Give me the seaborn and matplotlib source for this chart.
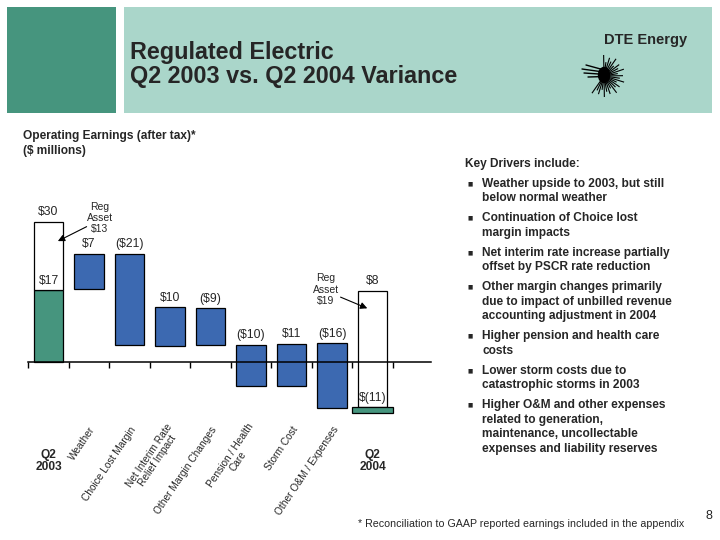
import numpy as np
import pandas as pd
import matplotlib
matplotlib.use("Agg")
import matplotlib.pyplot as plt
import seaborn as sns
from matplotlib.patches import Rectangle, Ellipse

# ---------------- data (original is not drawn to scale) ----------------
categories = ["Q2\n2003", "Weather", "Choice Lost Margin", "Net Interim Rate\nRelief Impact",
              "Other Margin Changes", "Pension / Health\nCare", "Storm Cost",
              "Other O&M / Expenses", "Q2\n2004"]
value_labels = ["$30", "$7", "($21)", "$10", "($9)", "($10)", "$11", "($16)", "$8"]

q2_2003_operating = 15.5     # drawn height of the "$17" green bar
q2_2003_total = 30.0         # top of the bar incl. reg asset ("$30")
q2_2003_base_label = "$17"
q2_2004_total = 15.3         # top of the bar incl. reg asset ("$8")
q2_2004_operating = -9.6     # "$(11)"
q2_2004_floor = -11.0
q2_2004_base_label = "$(11)"

change_bottom = [15.6, 3.6, 3.4, 3.6, -5.2, -5.2, -9.9]
change_top = [23.2, 23.2, 11.7, 11.5, 3.6, 3.8, 4.0]

reg_asset_labels = ["Reg\nAsset\n$13", "Reg\nAsset\n$19"]

key_drivers = [
    "Weather upside to 2003, but still\nbelow normal weather",
    "Continuation of Choice lost\nmargin impacts",
    "Net interim rate increase partially\noffset by PSCR rate reduction",
    "Other margin changes primarily\ndue to impact of unbilled revenue\naccounting adjustment in 2004",
    "Higher pension and health care\ncosts",
    "Lower storm costs due to\ncatastrophic storms in 2003",
    "Higher O&M and other expenses\nrelated to generation,\nmaintenance, uncollectable\nexpenses and liability reserves",
]

# ---------------- style ----------------
sns.set_theme(style="white")
plt.rcParams["font.family"] = ["Liberation Sans", "DejaVu Sans"]

DARK = "#46957E"
LIGHT = "#AAD6CA"
BLUE = "#3C69B1"
GREEN = "#46957E"

W, H = 720, 540
fig = plt.figure(figsize=(7.2, 5.4), dpi=100)
fig.patch.set_facecolor("white")


def fx(px):
    return px / W


def fy(py):
    return 1 - py / H


# header
fig.add_artist(Rectangle((fx(7), fy(113)), fx(109), 106 / H, transform=fig.transFigure,
                         facecolor=DARK, edgecolor="none", zorder=-2))
fig.add_artist(Rectangle((fx(124), fy(113)), fx(588), 106 / H, transform=fig.transFigure,
                         facecolor=LIGHT, edgecolor="none", zorder=-2))
fig.text(fx(130), fy(52), "Regulated Electric", fontsize=16.8, fontweight="bold", va="center", ha="left")
fig.text(fx(130), fy(76), "Q2 2003 vs. Q2 2004 Variance", fontsize=16.8, fontweight="bold",
         va="center", ha="left")
fig.text(fx(646), fy(40), "DTE Energy", fontsize=10.5, fontweight="bold", va="center", ha="center")

# logo (simple starburst)
lax = fig.add_axes([fx(578), fy(100), fx(52), 48 / H], zorder=5)
lax.set_facecolor("none")
lax.set_xlim(-1.3, 1.3)
lax.set_ylim(-1.2, 1.2)
lax.axis("off")
angles = np.deg2rad(np.arange(-125, 95, 9))
for k, a in enumerate(angles):
    r = [1.05, 0.8, 0.95, 0.7][k % 4]
    lax.plot([0.15 * np.cos(a), r * np.cos(a)], [0.15 * np.sin(a), r * np.sin(a)],
             color="black", lw=0.8, solid_capstyle="butt")
lax.add_patch(Ellipse((0.0, 0.05), 0.55, 0.75, color="black"))
for yy, x0 in [(0.55, -0.9), (0.35, -1.1), (0.15, -1.0), (-0.05, -0.8)]:
    lax.plot([x0, -0.1], [yy, yy * 0.6], color="black", lw=1.0)

# subtitle
fig.text(fx(23), fy(135.5), "Operating Earnings (after tax)*", fontsize=8.6, fontweight="bold", va="center")
fig.text(fx(23), fy(151), "($ millions)", fontsize=8.6, fontweight="bold", va="center")

# key drivers
fig.text(fx(465), fy(164), "Key Drivers include:", fontsize=8.6, fontweight="bold", va="center")
y = 183.7
for item in key_drivers:
    lines = item.split("\n")
    fig.text(fx(470), fy(y), "\u25a0", fontsize=4, va="center", ha="center", family="DejaVu Sans")
    for ln in lines:
        fig.text(fx(482.3), fy(y), ln, fontsize=8.6, fontweight="bold", va="center")
        y += 14.5
    y += 5.5

fig.text(fx(358), fy(524), "* Reconciliation to GAAP reported earnings included in the appendix",
         fontsize=7.7, va="center")
fig.text(fx(709), fy(516), "8", fontsize=9, va="center", ha="center")

# ---------------- chart ----------------
PX_PER_CAT = 40.5
PX_PER_UNIT = 4.667
x_left_px, x_right_px = 28.3, 431
base_py = 362
ymin, ymax = -12.0, 34.0
top_py = base_py - ymax * PX_PER_UNIT
bot_py = base_py - ymin * PX_PER_UNIT
ax = fig.add_axes([fx(x_left_px), fy(bot_py), fx(x_right_px - x_left_px), (bot_py - top_py) / H])
ax.set_facecolor("none")

pos = np.arange(len(categories))
bw = 0.72
edge_kw = dict(edgecolor="black", linewidth=0.9, saturation=1, errorbar=None,
               native_scale=True, orient="x", ax=ax)

# Q2 2003
sns.barplot(x=[pos[0]], y=[q2_2003_operating], width=bw, color=GREEN, **edge_kw)
sns.barplot(x=[pos[0]], y=[q2_2003_total - q2_2003_operating], bottom=[q2_2003_operating],
            width=bw, color="white", **edge_kw)
# changes
heights = np.array(change_top) - np.array(change_bottom)
df_change = pd.DataFrame({"pos": pos[1:8], "height": heights})
sns.barplot(data=df_change, x="pos", y="height", bottom=change_bottom, width=bw, color=BLUE, **edge_kw)
# Q2 2004
sns.barplot(x=[pos[8]], y=[q2_2004_total - q2_2004_operating], bottom=[q2_2004_operating],
            width=bw, color="white", **edge_kw)
sns.barplot(x=[pos[8]], y=[q2_2004_operating - q2_2004_floor], bottom=[q2_2004_floor],
            width=1.0, color=GREEN, **edge_kw)

ax.set_xlim(-0.5, (x_right_px - x_left_px) / PX_PER_CAT - 0.5)
ax.set_ylim(ymin, ymax)
sns.despine(ax=ax, left=True, top=True, right=True)
ax.spines["bottom"].set_position(("data", 0))
ax.spines["bottom"].set_color("black")
ax.spines["bottom"].set_linewidth(1.1)
ax.set_xticks(np.arange(-0.5, len(categories), 1.0))
ax.set_xticklabels([])
ax.set_yticks([])
ax.tick_params(axis="x", bottom=True, direction="out", length=4.3, width=1.0, color="black")
ax.set_xlabel("")
ax.set_ylabel("")

# value labels
tops = [q2_2003_total] + change_top + [q2_2004_total]
for i, (t, lab) in enumerate(zip(tops, value_labels)):
    ax.text(pos[i], t + 2.1, lab, ha="center", va="center", fontsize=8.7)
ax.text(pos[0], q2_2003_operating + 1.9, q2_2003_base_label, ha="center", va="center", fontsize=8.7)
ax.text(pos[8], q2_2004_operating + 1.8, q2_2004_base_label, ha="center", va="center", fontsize=8.7)

# reg asset call-outs
ax.text(1.27, 30.8, reg_asset_labels[0], ha="center", va="center", fontsize=7.5, linespacing=1.15)
ax.annotate("", xy=(0.23, 25.9), xytext=(0.94, 29.0),
            arrowprops=dict(arrowstyle="-|>", color="black", lw=0.8, mutation_scale=10,
                            shrinkA=0, shrinkB=0))
ax.text(6.84, 15.5, reg_asset_labels[1], ha="center", va="center", fontsize=7.5, linespacing=1.15)
ax.annotate("", xy=(7.87, 11.5), xytext=(7.21, 13.9),
            arrowprops=dict(arrowstyle="-|>", color="black", lw=0.8, mutation_scale=10,
                            shrinkA=0, shrinkB=0))

# category labels
for i, cat in enumerate(categories):
    if cat.startswith("Q2"):
        ax.text(pos[i], -21.2, cat, ha="center", va="center", fontsize=8.6, fontweight="bold",
                linespacing=1.05)
    else:
        ax.text(pos[i] + 0.1, -14.0, cat, ha="right", va="center", rotation=56,
                rotation_mode="anchor", fontsize=7.3, multialignment="center", linespacing=0.95)

fig.savefig("out.png", dpi=100)
